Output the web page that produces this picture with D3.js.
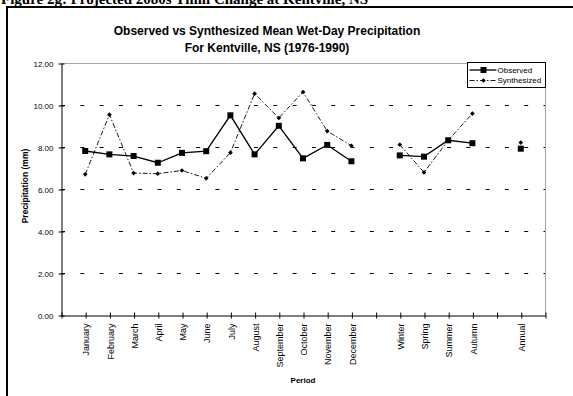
<!DOCTYPE html>
<html>
<head>
<meta charset="utf-8">
<script src="https://cdn.jsdelivr.net/npm/d3@7"></script>
<style>
  html, body { margin: 0; padding: 0; background: #fff; overflow: hidden; }
  svg { display: block; }
</style>
</head>
<body>
<svg id="chart" width="573" height="396"></svg>
<script>
// Category names
const months = ["January", "February", "March", "April", "May", "June",
                "July", "August", "September", "October", "November", "December"];
const seasons = ["Winter", "Spring", "Summer", "Autumn"];
const annual = ["Annual"];

// Mean wet-day precipitation (mm)
const observedMonthly    = [7.81, 7.65, 7.57, 7.25, 7.72, 7.80, 9.51, 7.65, 9.01, 7.46, 8.10, 7.32];
const observedSeasonal   = [7.60, 7.54, 8.32, 8.18];
const observedAnnual     = [7.92];
const synthesizedMonthly = [6.70, 9.54, 6.76, 6.73, 6.88, 6.51, 7.73, 10.54, 9.38, 10.62, 8.76, 8.06];
const synthesizedSeasonal= [8.11, 6.79, 8.32, 9.59];
const synthesizedAnnual  = [8.21];

const yTicks = [0, 2, 4, 6, 8, 10, 12];
const gridValues = [2, 4, 6, 8, 10];

// Build the category slots; empty slots separate months, seasons and annual
const slots = [];
const addGap = () => slots.push({ label: "", obs: null, syn: null });
const addGroup = (names, obs, syn) =>
  names.forEach((n, i) => slots.push({ label: n, obs: obs[i], syn: syn[i] }));
addGap();
addGroup(months, observedMonthly, synthesizedMonthly);
addGap();
addGroup(seasons, observedSeasonal, synthesizedSeasonal);
addGap();
addGroup(annual, observedAnnual, synthesizedAnnual);
addGap();
slots.forEach((d, i) => d.key = i);

const sans = "'Liberation Sans', Arial, Helvetica, sans-serif";
const svg = d3.select("#chart");

const plot = { left: 61, right: 545, top: 63, bottom: 315 };
const x = d3.scalePoint().domain(slots.map(d => d.key)).range([plot.left, plot.right]);
const y = d3.scaleLinear().domain([0, 12]).range([plot.bottom, plot.top]);

// Figure caption (runs off the top of the page) and frame
svg.append("text")
  .attr("x", 1).attr("y", 4)
  .attr("font-family", "'Liberation Serif', 'Times New Roman', serif")
  .attr("font-weight", "bold").attr("font-size", 15)
  .text("Figure 2g: Projected 2080s Tmin Change at Kentville, NS");

svg.append("rect")
  .attr("x", 7).attr("y", 7).attr("width", 700).attr("height", 500)
  .attr("fill", "none").attr("stroke", "#000").attr("stroke-width", 2);

// Title
const title = svg.append("text")
  .attr("text-anchor", "middle")
  .attr("font-family", sans).attr("font-weight", "bold").attr("font-size", 12);
title.append("tspan").attr("x", 267).attr("y", 35)
  .text("Observed vs Synthesized Mean Wet-Day Precipitation");
title.append("tspan").attr("x", 267).attr("y", 52)
  .text("For Kentville, NS (1976-1990)");

// Dashed gridlines
svg.append("g").selectAll("line").data(gridValues).join("line")
  .attr("x1", plot.left).attr("x2", plot.right)
  .attr("y1", d => y(d) + 0.5).attr("y2", d => y(d) + 0.5)
  .attr("stroke", "#000").attr("stroke-width", 1)
  .attr("stroke-dasharray", "4 15.3");

// Plot-area border (top and right)
svg.append("path")
  .attr("d", `M${plot.left},${plot.top + 0.5}H${plot.right + 0.5}V${plot.bottom}`)
  .attr("fill", "none").attr("stroke", "#a6a6a6").attr("stroke-width", 1);

// Y axis
const yAxis = svg.append("g")
  .attr("transform", `translate(${plot.left + 0.5},0.5)`)
  .call(d3.axisLeft(y).tickValues(yTicks).tickFormat(d3.format(".2f"))
    .tickSize(3).tickSizeOuter(0).tickPadding(5));
yAxis.selectAll(".tick").append("line").attr("x2", 3).attr("stroke", "#000");
yAxis.selectAll("text").attr("font-family", sans).attr("font-size", 8).attr("fill", "#000");
yAxis.select(".domain").attr("stroke", "#000");

// X axis
const xAxis = svg.append("g")
  .attr("transform", `translate(0.5,${plot.bottom + 0.5})`)
  .call(d3.axisBottom(x).tickFormat(k => slots[k].label).tickSize(3).tickSizeOuter(0));
xAxis.selectAll(".tick").append("line").attr("y2", -3).attr("stroke", "#000");
xAxis.select(".domain").attr("stroke", "#000");
xAxis.selectAll("text")
  .attr("transform", "rotate(-90)")
  .attr("text-anchor", "end")
  .attr("x", -8).attr("y", 0).attr("dy", "0.35em")
  .attr("font-family", sans).attr("font-size", 9).attr("fill", "#000");

// Axis titles
svg.append("text")
  .attr("transform", "translate(25,186) rotate(-90)")
  .attr("text-anchor", "middle").attr("dy", "0.35em")
  .attr("font-family", sans).attr("font-weight", "bold").attr("font-size", 8.5)
  .text("Precipitation (mm)");
svg.append("text")
  .attr("x", (plot.left + plot.right) / 2).attr("y", 383)
  .attr("text-anchor", "middle")
  .attr("font-family", sans).attr("font-weight", "bold").attr("font-size", 8)
  .text("Period");

// Series
const series = [
  { name: "Observed", key: "obs", width: 1.3, dash: null,
    symbol: d3.symbol(d3.symbolSquare, 36), rotate: 0 },
  { name: "Synthesized", key: "syn", width: 0.9, dash: "5 2 1.5 2",
    symbol: d3.symbol(d3.symbolSquare, 11), rotate: 45 }
];

series.forEach(s => {
  const line = d3.line()
    .defined(d => d[s.key] != null)
    .x(d => x(d.key))
    .y(d => y(d[s.key]));
  svg.append("path")
    .datum(slots)
    .attr("d", line)
    .attr("fill", "none").attr("stroke", "#000")
    .attr("stroke-width", s.width)
    .attr("stroke-dasharray", s.dash);
  svg.append("g").selectAll("path")
    .data(slots.filter(d => d[s.key] != null))
    .join("path")
    .attr("d", s.symbol)
    .attr("transform", d => `translate(${x(d.key)},${y(d[s.key])}) rotate(${s.rotate})`)
    .attr("fill", "#000");
});

// Legend
const legend = svg.append("g").attr("transform", "translate(467.5,62.5)");
legend.append("rect")
  .attr("width", 78).attr("height", 25)
  .attr("fill", "#fff").attr("stroke", "#000").attr("stroke-width", 1);
series.forEach((s, i) => {
  const ly = 7.5 + i * 10.5;
  legend.append("line")
    .attr("x1", 2).attr("x2", 29).attr("y1", ly).attr("y2", ly)
    .attr("stroke", "#000").attr("stroke-width", s.width)
    .attr("stroke-dasharray", s.dash);
  legend.append("path")
    .attr("d", s.symbol)
    .attr("transform", `translate(16,${ly}) rotate(${s.rotate})`)
    .attr("fill", "#000");
  legend.append("text")
    .attr("x", 30).attr("y", ly).attr("dy", "0.35em")
    .attr("font-family", sans).attr("font-size", 8)
    .text(s.name);
});
</script>
</body>
</html>
